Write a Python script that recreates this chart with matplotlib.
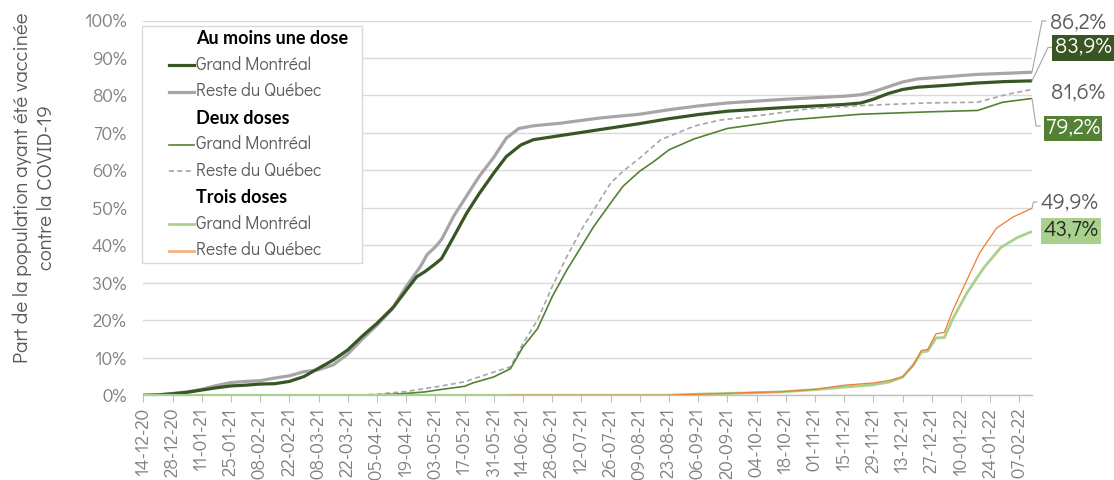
import matplotlib
matplotlib.use("Agg")
import matplotlib.pyplot as plt
from matplotlib.lines import Line2D
from matplotlib.patches import Rectangle
import pandas as pd

plt.rcParams['font.family'] = ['Didact Gothic', 'Lato', 'DejaVu Sans']
BOLD_FAMILY = ['Lato', 'DejaVu Sans']

# ---------------- data ----------------
groups = ["Au moins une dose", "Deux doses", "Trois doses"]
regions = ["Grand Montréal", "Reste du Québec"]

au1_gm_dates = ['2020-12-14','2020-12-21','2020-12-28','2021-01-04','2021-01-11','2021-01-18','2021-01-25',
                '2021-02-01','2021-02-08','2021-02-15','2021-02-22','2021-03-01','2021-03-08','2021-03-15',
                '2021-03-22','2021-03-29','2021-04-05','2021-04-13','2021-04-19','2021-04-24','2021-04-28',
                '2021-05-03','2021-05-06','2021-05-12','2021-05-18','2021-05-24','2021-05-31','2021-06-06',
                '2021-06-13','2021-06-19','2021-07-02','2021-07-21','2021-08-09','2021-08-23','2021-09-06',
                '2021-09-20','2021-10-04','2021-10-18','2021-11-01','2021-11-15','2021-11-23','2021-11-29',
                '2021-12-06','2021-12-13','2021-12-20','2022-01-03','2022-01-17','2022-01-31','2022-02-13']
au1_gm_vals = [0, 0.1, 0.4, 0.8, 1.4, 2.0, 2.5, 2.7, 3.0, 3.1, 3.7, 5.0, 7.2, 9.4, 12.1, 15.8, 19.2, 23.6,
               28.0, 31.6, 33.0, 35.1, 36.5, 42.5, 48.6, 53.8, 59.3, 63.7, 66.8, 68.2, 69.3, 70.9, 72.5,
               73.8, 74.9, 75.8, 76.3, 76.8, 77.2, 77.6, 78.0, 79.0, 80.5, 81.6, 82.2, 82.7, 83.3, 83.7, 83.9]

au1_rq_dates = ['2020-12-14','2020-12-21','2020-12-28','2021-01-04','2021-01-11','2021-01-18','2021-01-25',
                '2021-02-01','2021-02-08','2021-02-15','2021-02-22','2021-03-01','2021-03-08','2021-03-15',
                '2021-03-22','2021-03-29','2021-04-05','2021-04-12','2021-04-19','2021-04-26','2021-04-29',
                '2021-05-03','2021-05-06','2021-05-12','2021-05-18','2021-05-24','2021-05-31','2021-06-06',
                '2021-06-12','2021-06-19','2021-07-02','2021-07-21','2021-08-09','2021-08-23','2021-09-06',
                '2021-09-20','2021-10-04','2021-10-18','2021-11-01','2021-11-15','2021-11-23','2021-11-29',
                '2021-12-06','2021-12-13','2021-12-20','2022-01-03','2022-01-17','2022-01-31','2022-02-13']
au1_rq_vals = [0, 0.1, 0.5, 0.9, 1.6, 2.6, 3.4, 3.7, 3.9, 4.6, 5.2, 6.3, 6.8, 8.1, 11.0, 15.0, 18.7, 22.8,
               29.0, 34.5, 37.5, 39.6, 41.6, 48.0, 53.2, 58.4, 63.5, 68.6, 71.2, 71.9, 72.6, 74.0, 75.0,
               76.2, 77.2, 78.0, 78.5, 79.0, 79.4, 79.8, 80.2, 81.0, 82.3, 83.6, 84.4, 85.0, 85.6, 85.9, 86.2]

d2_gm_dates = ['2020-12-14','2021-03-24','2021-04-05','2021-04-19','2021-04-28','2021-05-05','2021-05-17',
               '2021-05-21','2021-05-31','2021-06-08','2021-06-14','2021-06-21','2021-06-28','2021-07-05',
               '2021-07-12','2021-07-18','2021-07-26','2021-08-01','2021-08-09','2021-08-16','2021-08-23',
               '2021-09-04','2021-09-20','2021-10-18','2021-11-23','2021-12-24','2022-01-18','2022-01-30',
               '2022-02-13']
d2_gm_vals = [0, 0, 0.1, 0.5, 0.9, 1.5, 2.4, 3.3, 4.9, 7.1, 12.9, 17.8, 26.3, 33.4, 39.7, 45.1, 51.3, 55.8,
              59.8, 62.5, 65.5, 68.4, 71.2, 73.4, 75.0, 75.6, 76.0, 78.2, 79.2]

d2_rq_dates = ['2020-12-14','2021-03-24','2021-04-05','2021-04-19','2021-04-28','2021-05-05','2021-05-17',
               '2021-05-31','2021-06-08','2021-06-14','2021-06-21','2021-06-28','2021-07-05','2021-07-12',
               '2021-07-18','2021-07-26','2021-08-01','2021-08-09','2021-08-19','2021-09-04','2021-09-16',
               '2021-10-06','2021-10-30','2021-11-23','2021-12-24','2022-01-18','2022-02-01','2022-02-13']
d2_rq_vals = [0, 0, 0.3, 1.0, 1.8, 2.4, 3.6, 6.2, 7.6, 13.8, 20.1, 29.0, 37.0, 44.2, 49.5, 56.6, 59.8, 63.3,
              68.2, 71.8, 73.4, 74.7, 76.5, 77.3, 78.0, 78.2, 80.3, 81.6]

d3_gm_dates = ['2020-12-14','2021-08-21','2021-09-06','2021-09-20','2021-10-04','2021-10-15','2021-11-01',
               '2021-11-15','2021-11-29','2021-12-07','2021-12-13','2021-12-18','2021-12-22','2021-12-25',
               '2021-12-29','2022-01-02','2022-01-06','2022-01-13','2022-01-21','2022-01-29','2022-02-06',
               '2022-02-13']
d3_gm_vals = [0, 0, 0.3, 0.5, 0.7, 0.9, 1.5, 2.2, 2.8, 3.6, 4.9, 8.0, 11.5, 11.8, 15.3, 15.4, 20.4, 27.5,
              34.1, 39.4, 42.1, 43.7]

d3_rq_dates = ['2021-06-07','2021-08-21','2021-09-06','2021-09-20','2021-10-04','2021-10-15','2021-11-01',
               '2021-11-15','2021-11-29','2021-12-07','2021-12-13','2021-12-18','2021-12-22','2021-12-25',
               '2021-12-29','2022-01-02','2022-01-06','2022-01-13','2022-01-19','2022-01-27','2022-02-04',
               '2022-02-13']
d3_rq_vals = [0, 0, 0.3, 0.5, 0.8, 0.9, 1.6, 2.7, 3.3, 4.0, 4.9, 8.0, 12.0, 12.2, 16.4, 16.8, 22.6, 31.0,
              38.1, 44.6, 47.6, 49.9]

x_start, x_end = '2020-12-14', '2022-02-13'
y_ticks = [0, 10, 20, 30, 40, 50, 60, 70, 80, 90, 100]
y_label = "Part de la population ayant été vaccinée\ncontre la COVID-19"

# ---------------- styles ----------------
series = [
    (0, 1, au1_rq_dates, au1_rq_vals, dict(color='#a6a6a6', lw=2.3, ls='-')),
    (0, 0, au1_gm_dates, au1_gm_vals, dict(color='#375623', lw=2.3, ls='-')),
    (1, 1, d2_rq_dates, d2_rq_vals, dict(color='#a6a6a6', lw=1.2, ls=(0, (3, 2)))),
    (1, 0, d2_gm_dates, d2_gm_vals, dict(color='#548235', lw=1.2, ls='-')),
    (2, 0, d3_gm_dates, d3_gm_vals, dict(color='#a9d18e', lw=2.0, ls='-')),
    (2, 1, d3_rq_dates, d3_rq_vals, dict(color='#ed7d31', lw=0.9, ls='-')),
]

W, H = 1114, 480
fig = plt.figure(figsize=(W / 100, H / 100), dpi=100)


def fx(px):
    return px / W


def fy(py):
    return 1 - py / H


ax = fig.add_axes([fx(143.3), fy(395.3), fx(1032) - fx(143.3), fy(20.5) - fy(395.3)])

lines = {}
for g, r, d, v, st in series:
    ax.plot(pd.to_datetime(d), v, color=st['color'], lw=st['lw'], ls=st['ls'],
            solid_capstyle='butt', zorder=3)
    lines[(g, r)] = (d, v, st)

ax.set_xlim(pd.Timestamp(x_start), pd.Timestamp(x_end))
ax.set_ylim(0, 100)

xt = pd.date_range(x_start, x_end, freq='14D')
ax.set_xticks(xt)
ax.set_xticklabels([t.strftime('%d-%m-%y') for t in xt], rotation=90)
ax.set_yticks(y_ticks)
ax.set_yticklabels([f"{t}%" for t in y_ticks])

tick_color = '#808080'
ax.tick_params(axis='x', length=5, width=0.8, color='#bfbfbf', labelcolor=tick_color,
               labelsize=13.5, pad=4)
ax.tick_params(axis='y', length=0, labelcolor=tick_color, labelsize=13.5, pad=12)
for s in ['top', 'right', 'left']:
    ax.spines[s].set_visible(False)
ax.spines['bottom'].set_color('#bfbfbf')
ax.spines['bottom'].set_linewidth(1)
ax.yaxis.grid(True, color='#d9d9d9', lw=1)
ax.set_axisbelow(True)

fig.text(fx(34), fy(187.5), y_label, rotation=90, ha='center', va='center', ma='center',
         fontsize=14.8, color='#595959', linespacing=1.35)

# ---------------- legend (manual) ----------------
fig.add_artist(Rectangle((fx(142), fy(263)), fx(361.5) - fx(142), fy(26) - fy(263),
                         transform=fig.transFigure, fc='white', ec='#d9d9d9', lw=1, zorder=5))
row_y = 38.5
for g, gname in enumerate(groups):
    fig.text(fx(196), fy(row_y), gname, ha='left', va='center', fontsize=13,
             fontweight='bold', color='black', zorder=6, family=BOLD_FAMILY)
    row_y += 26.5
    for r, rname in enumerate(regions):
        d, v, st = lines[(g, r)]
        lw = st['lw']
        col = st['color']
        if (g, r) == (2, 1):
            col, lw = '#f4b183', 2.0
        fig.add_artist(Line2D([fx(169), fx(194)], [fy(row_y), fy(row_y)], transform=fig.transFigure,
                              color=col, lw=lw, ls=st['ls'], zorder=6))
        fig.text(fx(196), fy(row_y), rname, ha='left', va='center', fontsize=12.5,
                 color='#595959', zorder=6)
        row_y += 26.5

# ---------------- end labels ----------------
def fmt(v):
    return f"{v:.1f}".replace('.', ',') + '%'


end_labels = [
    ((0, 1), (1077.5, 23.5), None, '#595959', [(1042, 21), (1046, 21)]),
    ((0, 0), (1083, 48), '#375623', 'white', [(1048, 47.5), (1052, 47.5)]),
    ((1, 1), (1077.5, 93.5), None, '#595959', []),
    ((1, 0), (1073, 128.5), '#548235', 'white', [(1036, 126), (1040, 126)]),
    ((2, 1), (1069.5, 203.5), None, '#595959', [(1033.5, 202), (1037, 202)]),
    ((2, 0), (1071, 231), '#a9d18e', '#262626', []),
]
inv = fig.transFigure.inverted()
for key, (cx, cy), bc, tc, path in end_labels:
    d, v, st = lines[key]
    kw = {}
    if bc is not None:
        kw['bbox'] = dict(boxstyle='square,pad=0.1', fc=bc, ec='none')
    fig.text(fx(cx), fy(cy), fmt(v[-1]), ha='center', va='center', fontsize=15.8, color=tc,
             zorder=7, **kw)
    if path:
        p0 = inv.transform(ax.transData.transform(
            (matplotlib.dates.date2num(pd.Timestamp(d[-1])), v[-1])))
        xs = [p0[0]] + [fx(p[0]) for p in path]
        ys = [p0[1]] + [fy(p[1]) for p in path]
        fig.add_artist(Line2D(xs, ys, transform=fig.transFigure, color='#a6a6a6', lw=0.8, zorder=6))

fig.savefig('out.png', dpi=100)
